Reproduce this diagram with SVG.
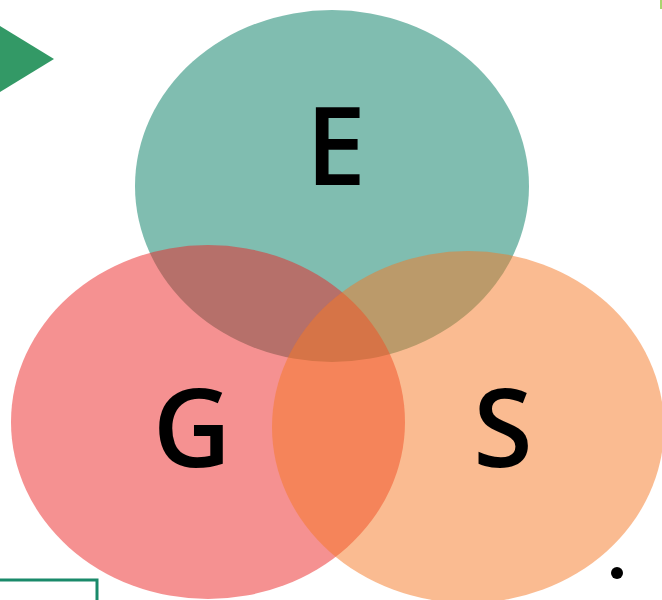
<svg xmlns="http://www.w3.org/2000/svg" width="662" height="600" viewBox="0 0 662 600">
<style>
.lbl{font-family:"Open Sans","Noto Sans","DejaVu Sans",sans-serif;font-size:108px;font-weight:600;fill:#000;text-anchor:middle}
.c{opacity:0.5}
</style>
<rect width="662" height="600" fill="#fff"/>
<polygon points="0,26 54,59 0,92" fill="#339966"/>
<line x1="661" y1="0" x2="661" y2="9" stroke="#8cc63f" stroke-width="1.5"/>
<polyline points="0,580 97,580 97,600" fill="none" stroke="#1a8a6a" stroke-width="3"/>
<g id="E"><ellipse class="c" cx="332" cy="186" rx="197" ry="176" fill="#017b61"/><text class="lbl" x="336" y="185">E</text></g>
<g id="G"><ellipse class="c" cx="208" cy="422" rx="197" ry="177" fill="#eb2323"/></g>
<g id="S"><ellipse class="c" cx="468" cy="427" rx="196" ry="176" fill="#f57723"/></g>
<text class="lbl" x="192" y="467">G</text>
<text class="lbl" x="503" y="467">S</text>
<circle cx="617" cy="573" r="6" fill="#000"/>
</svg>
